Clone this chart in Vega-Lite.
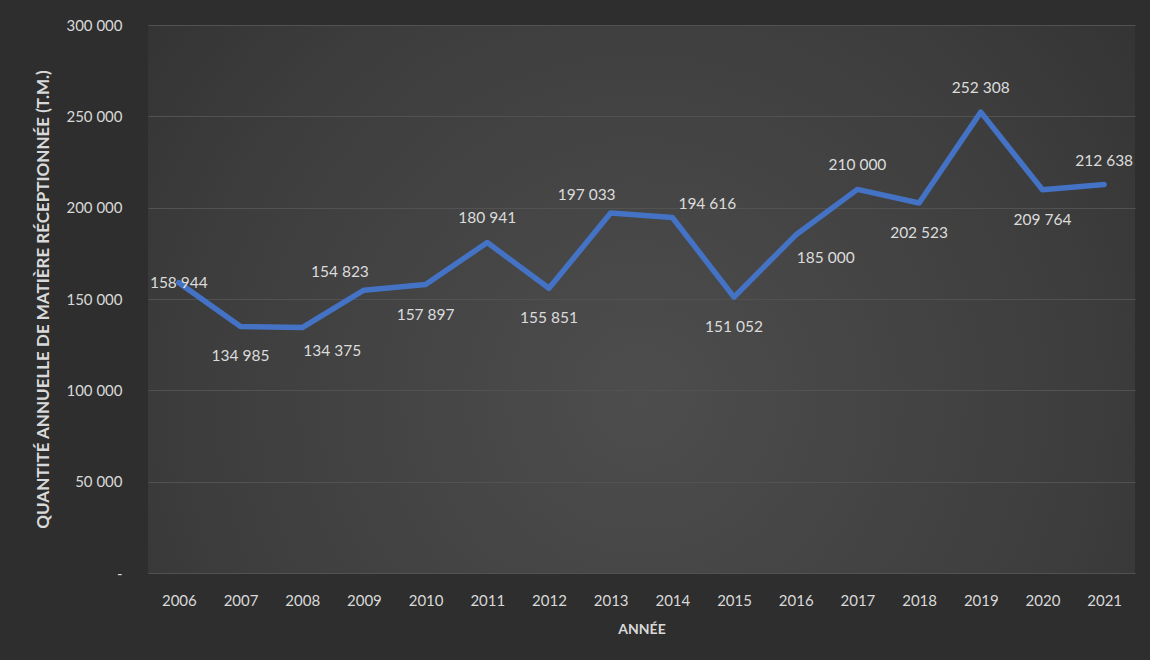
{
  "$schema": "https://vega.github.io/schema/vega-lite/v6.json",
  "autosize": {"type": "none"},
  "width": 987,
  "height": 548,
  "padding": {"left": 148, "top": 25, "right": 15, "bottom": 87},
  "background": "#2e2e2e",
  "config": {
    "locale": {"number": {"decimal": ",", "thousands": " ", "grouping": [3], "currency": ["", " €"]}},
    "view": {
      "stroke": null,
      "fill": {
        "gradient": "radial",
        "x1": 0.5, "y1": 0.6, "r1": 0,
        "x2": 0.5, "y2": 0.6, "r2": 0.75,
        "stops": [
          {"offset": 0, "color": "#4d4d4d"},
          {"offset": 0.6, "color": "#3d3d3d"},
          {"offset": 1, "color": "#2e2e2e"}
        ]
      }
    },
    "font": "Lato",
    "text": {"font": "Lato", "fontSize": 15.5, "color": "#dcdcdc", "baseline": "middle", "align": "center"},
    "axis": {
      "labelFont": "Lato",
      "labelFontSize": 15,
      "labelColor": "#d9d9d9",
      "titleFont": "Lato",
      "titleFontSize": 17,
      "titleFontWeight": "bold",
      "titleColor": "#d9d9d9",
      "ticks": false,
      "domain": false
    }
  },
  "data": {
    "values": [
      {"year": "2006", "value": 158944},
      {"year": "2007", "value": 134985},
      {"year": "2008", "value": 134375},
      {"year": "2009", "value": 154823},
      {"year": "2010", "value": 157897},
      {"year": "2011", "value": 180941},
      {"year": "2012", "value": 155851},
      {"year": "2013", "value": 197033},
      {"year": "2014", "value": 194616},
      {"year": "2015", "value": 151052},
      {"year": "2016", "value": 185000},
      {"year": "2017", "value": 210000},
      {"year": "2018", "value": 202523},
      {"year": "2019", "value": 252308},
      {"year": "2020", "value": 209764},
      {"year": "2021", "value": 212638}
    ]
  },
  "encoding": {
    "x": {
      "field": "year",
      "type": "ordinal",
      "scale": {"type": "point", "padding": 0.5},
      "axis": {
        "title": "ANNÉE",
        "titleFontSize": 14,
        "labelAngle": 0,
        "labelPadding": 20,
        "grid": false,
        "titlePadding": 14
      }
    },
    "y": {
      "field": "value",
      "type": "quantitative",
      "scale": {"domain": [0, 300000], "nice": false, "zero": true},
      "axis": {
        "title": "QUANTITÉ ANNUELLE DE MATIÈRE RÉCEPTIONNÉE (T.M.)",
        "values": [0, 50000, 100000, 150000, 200000, 250000, 300000],
        "format": ",d",
        "labelExpr": "datum.value === 0 ? '-' : datum.label",
        "labelPadding": 26,
        "grid": true,
        "gridColor": "#525252",
        "gridWidth": 1,
        "titlePadding": 13
      }
    }
  },
  "layer": [
    {
      "mark": {"type": "line", "color": "#4472C4", "strokeWidth": 5.5, "strokeJoin": "round", "strokeCap": "round"}
    },
    {
      "transform": [{"filter": {"field": "year", "oneOf": ["2011", "2017", "2019", "2021"]}}],
      "mark": {"type": "text", "dy": -24},
      "encoding": {"text": {"field": "value", "type": "quantitative", "format": ",d"}}
    },
    {
      "transform": [{"filter": {"field": "year", "oneOf": ["2009", "2013"]}}],
      "mark": {"type": "text", "dy": -18, "dx": -24},
      "encoding": {"text": {"field": "value", "type": "quantitative", "format": ",d"}}
    },
    {
      "transform": [{"filter": {"field": "year", "oneOf": ["2014"]}}],
      "mark": {"type": "text", "dy": -14, "dx": 35},
      "encoding": {"text": {"field": "value", "type": "quantitative", "format": ",d"}}
    },
    {
      "transform": [{"filter": {"field": "year", "oneOf": ["2007", "2010", "2012", "2015", "2018", "2020"]}}],
      "mark": {"type": "text", "dy": 30},
      "encoding": {"text": {"field": "value", "type": "quantitative", "format": ",d"}}
    },
    {
      "transform": [{"filter": {"field": "year", "oneOf": ["2008", "2016"]}}],
      "mark": {"type": "text", "dy": 23, "dx": 30},
      "encoding": {"text": {"field": "value", "type": "quantitative", "format": ",d"}}
    },
    {
      "transform": [{"filter": {"field": "year", "oneOf": ["2006"]}}],
      "mark": {"type": "text", "dy": 0, "dx": 0},
      "encoding": {"text": {"field": "value", "type": "quantitative", "format": ",d"}}
    }
  ]
}
